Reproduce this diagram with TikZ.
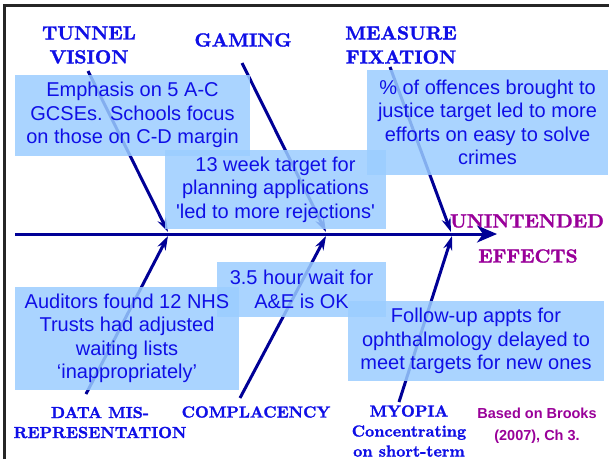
\documentclass[tikz,border=0pt]{standalone}
\usepackage{fontspec}
\usetikzlibrary{arrows.meta}
\newfontfamily\calloutfont{Liberation Sans}
\newfontfamily\headfont[Extension=.otf,FakeBold=1.6]{lmroman10-bold}
\definecolor{bonenavy}{RGB}{0,0,150}
\definecolor{headblue}{RGB}{15,15,230}
\definecolor{boxblue}{RGB}{155,205,255}
\definecolor{effectpurple}{RGB}{153,0,153}

\begin{document}
\begin{tikzpicture}[x=1pt,y=-1pt,
    heading/.style={text=headblue,font=\headfont\fontsize{19}{24}\selectfont,align=center},
    footing/.style={text=headblue,font=\headfont\fontsize{16}{20}\selectfont,align=center},
    effect/.style={text=effectpurple,font=\headfont\fontsize{19}{24}\selectfont},
    source/.style={text=effectpurple,font=\calloutfont\fontsize{14.5}{22}\selectfont\bfseries,align=center},
    callout/.style={fill=boxblue,fill opacity=0.85,text opacity=1,text=headblue,inner sep=0pt,
      font=\calloutfont\fontsize{20}{23.5}\selectfont,align=center},
    bone/.style={bonenavy,line width=3pt,-{Stealth[length=14pt,width=9pt]}},
    spine/.style={bonenavy,line width=3pt,-{Stealth[length=20pt,width=17pt,inset=6pt]}},
    frame/.style={black!85,line width=3pt}]
  \useasboundingbox (0,0) rectangle (609,459);
  \draw[frame] (4.3,459) -- (4.3,5.5) -- (609,5.5);
  \coordinate (tail) at (15,234);
  \coordinate (head) at (497,234);
  \draw[spine] (tail) -- (head);
  \begin{scope}
    \coordinate (tvs) at (88,71);
    \coordinate (tve) at (168,232);
    \coordinate (gms) at (242,63);
    \coordinate (gme) at (326,232);
    \coordinate (mfs) at (390,67);
    \coordinate (mfe) at (451,232);
    \coordinate (dms) at (86,394);
    \coordinate (dme) at (168,236);
    \coordinate (cps) at (240,398);
    \coordinate (cpe) at (326,236);
    \coordinate (mys) at (399,402);
    \coordinate (mye) at (452,236);
    \foreach \from/\to in {tvs/tve,gms/gme,mfs/mfe,dms/dme,cps/cpe,mys/mye}
      \draw[bone] (\from) -- (\to);
  \end{scope}
  \node[callout,minimum width=235pt,minimum height=81pt] (emphasis) at (132.5,115)
    {Emphasis on 5 A-C\\GCSEs. Schools focus\\on those on C-D margin};
  \node[callout,minimum width=221pt,minimum height=79pt] (planning) at (275.5,189.5)
    {13 week target for\\planning applications\\\textquotesingle led to more rejections\textquotesingle};
  \node[callout,minimum width=241pt,minimum height=105pt] (offences) at (487.5,122.5)
    {\% of offences brought to\\justice target led to more\\efforts on easy to solve\\crimes};
  \node[callout,minimum width=169pt,minimum height=55pt] (waiting) at (301.5,289.5)
    {3.5 hour wait for\\A\&E is OK};
  \node[callout,minimum width=224pt,minimum height=103pt] (auditors) at (127,338.5)
    {Auditors found 12 NHS\\Trusts had adjusted\\waiting lists\\‘inappropriately’};
  \node[callout,minimum width=256pt,minimum height=80pt] (followup) at (476,341)
    {Follow-up appts for\\ophthalmology delayed to\\meet targets for new ones};
  \node[heading] (tunnel) at (89,45) {TUNNEL\\VISION};
  \node[heading] (gaming) at (243,40) {GAMING};
  \node[heading] (measure) at (401,45) {MEASURE\\FIXATION};
  \node[effect] (unintended) at (527,221) {UNINTENDED};
  \node[effect] (effects) at (528,256) {EFFECTS};
  \node[footing] (datamis) at (100,422.5) {DATA MIS-\\REPRESENTATION};
  \node[footing] (complacency) at (256,412) {COMPLACENCY};
  \node[footing] (myopia) at (409,431) {MYOPIA\\Concentrating\\on short-term};
  \node[source] (brooks) at (537,426) {Based on Brooks\\(2007), Ch 3.};
\end{tikzpicture}
\end{document}
